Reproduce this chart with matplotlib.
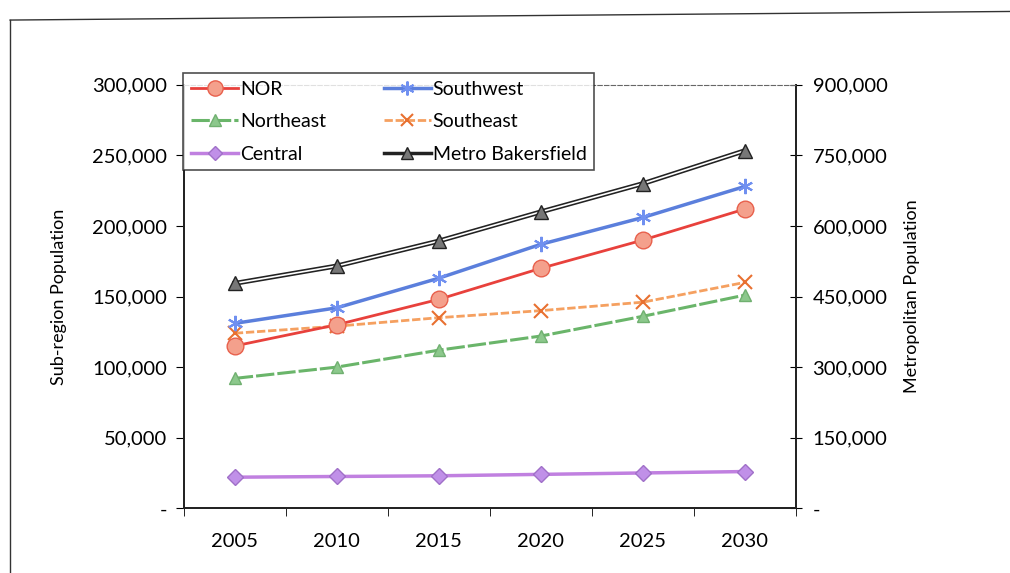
import matplotlib.pyplot as plt
from matplotlib.ticker import FuncFormatter, FixedLocator
from matplotlib.lines import Line2D

years = ['2005', '2010', '2015', '2020', '2025', '2030']
nor = [115000, 130000, 148000, 170000, 190000, 212000]
southwest = [131000, 142000, 163000, 187000, 206000, 228000]
southeast = [124000, 129000, 135000, 140000, 146000, 160000]
northeast = [92000, 100000, 112000, 122000, 136000, 151000]
central = [22000, 22500, 23000, 24000, 25000, 26000]
metro = [478000, 515000, 568000, 630000, 690000, 760000]

plt.rcParams['font.family'] = ['Lato', 'DejaVu Sans']

fig = plt.figure(figsize=(10.1, 5.73), dpi=100)
ax = fig.add_axes([0.182, 0.113, 0.606, 0.739])
ax2 = ax.twinx()

x = list(range(len(years)))


def fmt(v, pos):
    if v == 0:
        return '-'
    return f'{int(v):,}'


# sub-regions on left axis
ax.plot(x, nor, color='#e8413c', lw=2, marker='o', ms=12,
        mfc='#f4a08c', mec='#e8604c', zorder=5)
ax.plot(x, southwest, color='#5b7fdc', lw=2.5, marker=(6, 2, 0), ms=11,
        mec='#7090f0', mew=1.5, zorder=5)
ax.plot(x, southeast, color='#f5a060', lw=2, ls=(0, (3, 1)), marker='x', ms=10,
        mec='#e87030', mew=1.5, zorder=4)
ax.plot(x, northeast, color='#6ab56a', lw=2.2, ls=(0, (6, 1)), marker='^', ms=9,
        mfc='#8cc88c', mec='#70b070', zorder=4)
ax.plot(x, central, color='#c080e0', lw=2.5, marker='D', ms=8,
        mfc='#c090e8', mec='#a070c8', zorder=4)

# metro on right axis
ax2.plot(x, metro, color='#222222', lw=3.5, zorder=3)
ax2.plot(x, metro, color='white', lw=1.2, marker='^', ms=10,
         mfc='#777777', mec='#222222', zorder=4)

ax.set_xlim(-0.5, len(years) - 0.5)
ax.set_ylim(0, 300000)
ax2.set_ylim(0, 900000)
ax.set_yticks(range(0, 300001, 50000))
ax2.set_yticks(range(0, 900001, 150000))
ax.yaxis.set_major_formatter(FuncFormatter(fmt))
ax2.yaxis.set_major_formatter(FuncFormatter(fmt))

ax.set_xticks(x)
ax.set_xticklabels(years)
ax.xaxis.set_minor_locator(FixedLocator([i - 0.5 for i in range(len(years) + 1)]))
ax.tick_params(axis='x', which='major', length=0, pad=18, labelsize=14.5)
ax.tick_params(axis='x', which='minor', length=6, direction='out')
ax.tick_params(axis='y', length=6, direction='out', labelsize=14.5, pad=6)
ax2.tick_params(axis='y', length=8, direction='inout', labelsize=14.5, pad=8)

for a in (ax, ax2):
    for s in a.spines.values():
        s.set_linewidth(1.3)
        s.set_color('#222222')
ax.spines['top'].set_visible(False)
ax2.spines['top'].set_linestyle((0, (4, 2)))
ax2.spines['top'].set_linewidth(0.8)
ax2.spines['top'].set_color('#666666')

ax.set_ylabel('Sub-region Population', fontsize=13, labelpad=18)
ax2.set_ylabel('Metropolitan Population', fontsize=13, labelpad=12)

handles = [
    Line2D([], [], color='#e8413c', lw=2, marker='o', ms=11, mfc='#f4a08c', mec='#e8604c'),
    Line2D([], [], color='#6ab56a', lw=2.2, ls=(0, (6, 1)), marker='^', ms=9, mfc='#8cc88c', mec='#70b070'),
    Line2D([], [], color='#c080e0', lw=2.5, marker='D', ms=7, mfc='#c090e8', mec='#a070c8'),
    Line2D([], [], color='#5b7fdc', lw=2.5, marker=(6, 2, 0), ms=10, mec='#7090f0', mew=1.5),
    Line2D([], [], color='#f5a060', lw=2, ls=(0, (3, 1)), marker='x', ms=9, mec='#e87030', mew=1.5),
    Line2D([], [], color='#222222', lw=2.5, marker='^', ms=9, mfc='#777777', mec='#222222'),
]
labels = ['NOR', 'Northeast', 'Central', 'Southwest', 'Southeast', 'Metro Bakersfield']
leg = fig.legend(handles, labels, ncol=2, loc='upper left',
                 bbox_to_anchor=(0.172, 0.89), fontsize=14, frameon=True,
                 fancybox=False, edgecolor='#222222', handlelength=2.4,
                 handletextpad=0.1, columnspacing=3.0, labelspacing=0.8,
                 borderpad=0.4)
leg.get_frame().set_linewidth(1.2)
leg.set_zorder(10)

# outer frame lines of the scanned figure box
fig.add_artist(Line2D([0.01, 0.01], [0.0, 0.965], color='#333333', lw=1))
fig.add_artist(Line2D([0.01, 1.0], [0.965, 0.98], color='#333333', lw=1))

fig.savefig('out.png', dpi=100)
